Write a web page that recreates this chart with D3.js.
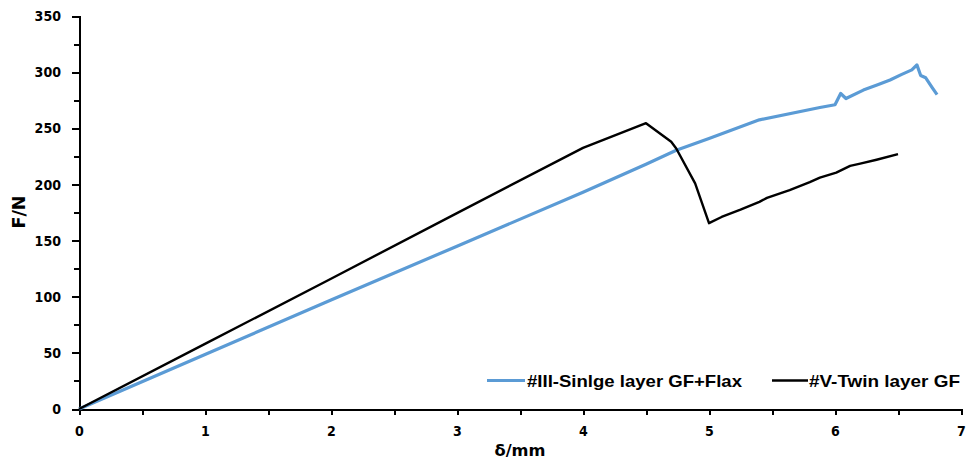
<!DOCTYPE html>
<html>
<head>
<meta charset="utf-8">
<script src="https://cdn.jsdelivr.net/npm/d3@7/dist/d3.min.js"></script>
<style>
  html, body { margin: 0; padding: 0; background: #fff; }
  svg { display: block; }
</style>
</head>
<body>
<svg id="chart" width="966" height="461"></svg>
<script>
// ---- data ----
const singleX = [0, 1, 2, 3, 4, 4.5, 4.74, 5.0, 5.4, 5.88, 6.0, 6.045, 6.087, 6.225, 6.344, 6.437, 6.53, 6.61, 6.65, 6.68, 6.72, 6.77, 6.81];
const singleF = [0, 48.5, 97, 145, 193, 218, 230.5, 241, 257.5, 268.5, 271, 281, 276.5, 284, 289, 293, 298, 302, 306.5, 297, 295, 286.5, 280];
const twinX = [0, 1, 2, 3, 4, 4.5, 4.7, 4.74, 4.89, 5.0, 5.1, 5.25, 5.4, 5.46, 5.64, 5.8, 5.88, 6.01, 6.12, 6.2, 6.33, 6.5];
const twinF = [0, 58, 116, 174.5, 232.5, 254.5, 238, 232, 201, 165.5, 171, 177.5, 184.5, 188, 195, 202, 206, 210.5, 216.5, 218.5, 222, 227];
const xTicks = [0, 1, 2, 3, 4, 5, 6, 7];
const yTicks = [0, 50, 100, 150, 200, 250, 300, 350];
const seriesNames = ["#III-Sinlge layer GF+Flax", "#V-Twin layer GF"];
const seriesColors = ["#5B9BD5", "#000000"];
const xTitle = "δ/mm";
const yTitle = "F/N";

// ---- chart ----
const svg = d3.select("#chart");
const x = d3.scaleLinear().domain([0, 7]).range([79, 961]);
const y = d3.scaleLinear().domain([0, 350]).range([409, 16]);

const tickFont = "'DejaVu Sans', Verdana, sans-serif";

// minor ticks
const yMinor = d3.range(25, 350, 50);
const xMinor = d3.range(0.5, 7, 1);

const gy = svg.append("g").attr("transform", `translate(${x(0)},0)`);
gy.call(d3.axisLeft(y).tickValues(yMinor).tickSize(5).tickFormat(""));
gy.call(g => g.selectAll(".domain").remove());
const gy2 = svg.append("g").attr("transform", `translate(${x(0)},0)`)
  .call(d3.axisLeft(y).tickValues(yTicks).tickSize(7).tickPadding(12).tickFormat(d3.format("d")));

const gx = svg.append("g").attr("transform", `translate(0,${y(0)})`);
gx.call(d3.axisBottom(x).tickValues(xMinor).tickSize(6).tickFormat(""));
gx.call(g => g.selectAll(".domain").remove());
const gx2 = svg.append("g").attr("transform", `translate(0,${y(0)})`)
  .call(d3.axisBottom(x).tickValues(xTicks).tickSize(6).tickPadding(12).tickFormat(d3.format("d")));

svg.selectAll(".domain").attr("stroke", "#000").attr("stroke-width", 2).attr("shape-rendering", "crispEdges");
svg.selectAll(".tick line").attr("stroke", "#000").attr("stroke-width", 2).attr("shape-rendering", "crispEdges");
svg.selectAll(".tick text")
  .attr("font-family", tickFont)
  .attr("font-weight", "bold")
  .attr("font-size", "14.5px")
  .attr("fill", "#000")
  .attr("lengthAdjust", "spacingAndGlyphs")
  .attr("textLength", function () { return 8.8 * this.textContent.length; });
gy2.selectAll(".tick text").attr("x", -18);
gx2.selectAll(".tick text").attr("y", 17);

// lines
const line = d3.line().x(d => x(d[0])).y(d => y(d[1]));
const singleData = singleX.map((v, i) => [v, singleF[i]]);
const twinData = twinX.map((v, i) => [v, twinF[i]]);

svg.append("path").datum(singleData)
  .attr("d", line).attr("fill", "none")
  .attr("stroke", seriesColors[0]).attr("stroke-width", 3.2)
  .attr("stroke-linejoin", "round");
svg.append("path").datum(twinData)
  .attr("d", line).attr("fill", "none")
  .attr("stroke", seriesColors[1]).attr("stroke-width", 2.4)
  .attr("stroke-linejoin", "round");

// axis titles
svg.append("text")
  .attr("x", 520).attr("y", 456)
  .attr("text-anchor", "middle")
  .attr("font-family", tickFont).attr("font-weight", "bold").attr("font-size", "16px")
  .attr("textLength", 51).attr("lengthAdjust", "spacingAndGlyphs")
  .text(xTitle);
svg.append("text")
  .attr("transform", "translate(25,212) rotate(-90)")
  .attr("text-anchor", "middle")
  .attr("font-family", tickFont).attr("font-weight", "bold").attr("font-size", "17px")
  .attr("textLength", 33).attr("lengthAdjust", "spacingAndGlyphs")
  .text(yTitle);

// legend
const legend = [
  { x1: 487, x2: 525, tx: 527, w: 215 },
  { x1: 772, x2: 808, tx: 809, w: 151 }
];
legend.forEach((l, i) => {
  svg.append("line")
    .attr("x1", l.x1).attr("x2", l.x2).attr("y1", 380.5).attr("y2", 380.5)
    .attr("stroke", seriesColors[i]).attr("stroke-width", i === 0 ? 3.2 : 2.4);
  svg.append("text")
    .attr("x", l.tx).attr("y", 386.5)
    .attr("font-family", "'Liberation Sans', Arial, sans-serif")
    .attr("font-weight", "bold").attr("font-size", "16.5px")
    .attr("textLength", l.w).attr("lengthAdjust", "spacingAndGlyphs")
    .attr("fill", "#000")
    .text(seriesNames[i]);
});
</script>
</body>
</html>
